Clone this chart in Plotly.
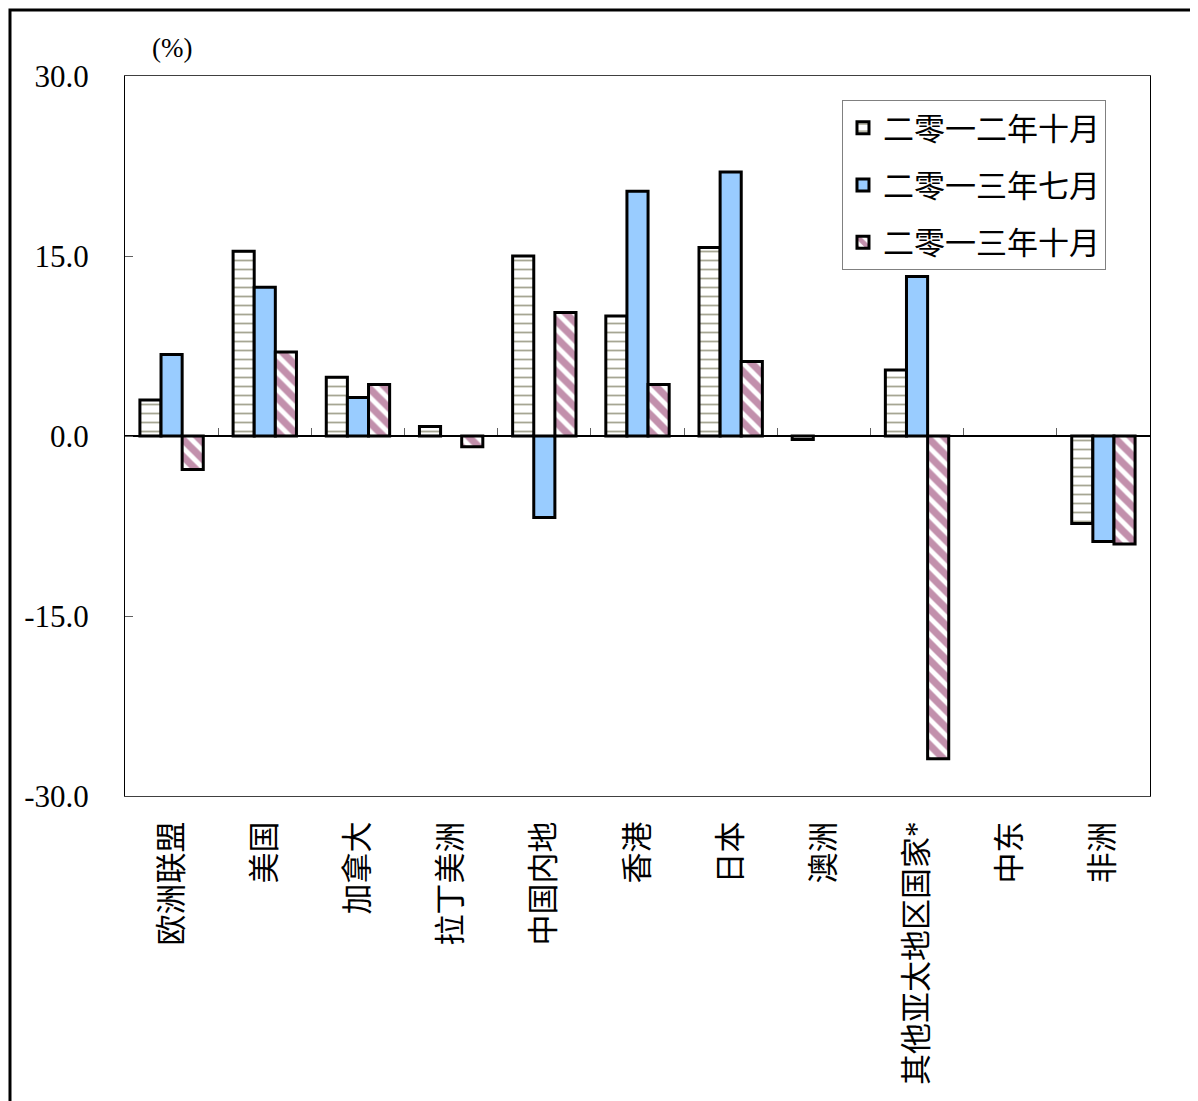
import plotly.graph_objects as go

categories = ["欧洲联盟", "美国", "加拿大", "拉丁美洲", "中国内地", "香港", "日本",
              "澳洲", "其他亚太地区国家*", "中东", "非洲"]
series_names = ["二零一二年十月", "二零一三年七月", "二零一三年十月"]
oct_2012 = [3.0, 15.4, 4.9, 0.8, 15.0, 10.0, 15.7, -0.3, 5.5, None, -7.3]
jul_2013 = [6.8, 12.4, 3.2, None, -6.8, 20.4, 22.0, None, 13.3, None, -8.8]
oct_2013 = [-2.8, 7.0, 4.3, -0.9, 10.3, 4.3, 6.2, None, -26.9, None, -9.0]
y_ticks = [-30.0, -15.0, 0.0, 15.0, 30.0]
y_tick_text = ["-30.0", "-15.0", "0.0", "15.0", "30.0"]

FONT = "Liberation Serif, 'Noto Sans CJK SC', serif"

fig = go.Figure()
styles = [
    dict(color="white", pattern=dict(shape="-", fgcolor="#4E4E28", bgcolor="white",
                                     size=9, solidity=0.2)),
    dict(color="#99CCFF"),
    dict(color="white", pattern=dict(shape="\\", fgcolor="#86225A", bgcolor="white",
                                     size=12, solidity=0.6)),
]
for i, (name, vals) in enumerate(zip(series_names, [oct_2012, jul_2013, oct_2013])):
    fig.add_trace(go.Bar(
        x=categories, y=vals, name=name, legendgroup=f"g{i}",
        marker=dict(line=dict(color="black", width=3), **styles[i]),
    ))

n = len(categories)
# helper axis at y=0 carrying the category boundary ticks
fig.add_trace(go.Scatter(x=[0], y=[0], xaxis="x2", yaxis="y", mode="markers",
                         marker=dict(opacity=0), showlegend=False, hoverinfo="skip"))

fig.update_layout(
    width=1198, height=1101,
    margin=dict(l=117, r=56, t=68, b=313),
    paper_bgcolor="white", plot_bgcolor="white",
    barmode="group", bargap=0.32, bargroupgap=0,
    font=dict(family=FONT, size=30, color="black"),
    showlegend=True,
    legend=dict(x=0.6995, y=0.9667, xanchor="left", yanchor="top",
                bordercolor="#808080", borderwidth=1, bgcolor="white",
                traceorder="grouped", tracegroupgap=14,
                font=dict(family=FONT, size=31)),
    xaxis=dict(type="category", categoryorder="array", categoryarray=categories,
               range=[-0.5, n - 0.5], showline=True, linecolor="#404040", linewidth=1,
               mirror=True, ticks="", tickangle=-90, ticklabelstandoff=12,
               showgrid=False, zeroline=False, tickfont=dict(size=31)),
    xaxis2=dict(overlaying="x", anchor="free", position=0.5, range=[-0.5, n - 0.5],
                tickmode="array", tickvals=[k + 0.5 for k in range(n - 1)],
                ticks="inside", ticklen=7, tickcolor="#606060", showticklabels=False,
                showline=True, linecolor="black", linewidth=1.5, showgrid=False,
                zeroline=False),
    yaxis=dict(range=[-30, 30], tickmode="array", tickvals=y_ticks, ticktext=y_tick_text,
               ticks="inside", ticklen=8, tickcolor="#606060", showline=True,
               linecolor="black", linewidth=1, mirror=True, showgrid=False,
               zeroline=False, ticklabelstandoff=29, tickfont=dict(size=31)),
    annotations=[dict(text="(%)", xref="paper", yref="paper", x=0.046, y=1.039,
                      xanchor="center", yanchor="middle", showarrow=False,
                      font=dict(family=FONT, size=27))],
    shapes=[dict(type="rect", xref="paper", yref="paper",
                 x0=-0.1122, y0=-0.45, x1=1.08, y1=1.0917,
                 line=dict(color="black", width=3), fillcolor="rgba(0,0,0,0)", layer="below")],
)

fig.write_html("out.html")
